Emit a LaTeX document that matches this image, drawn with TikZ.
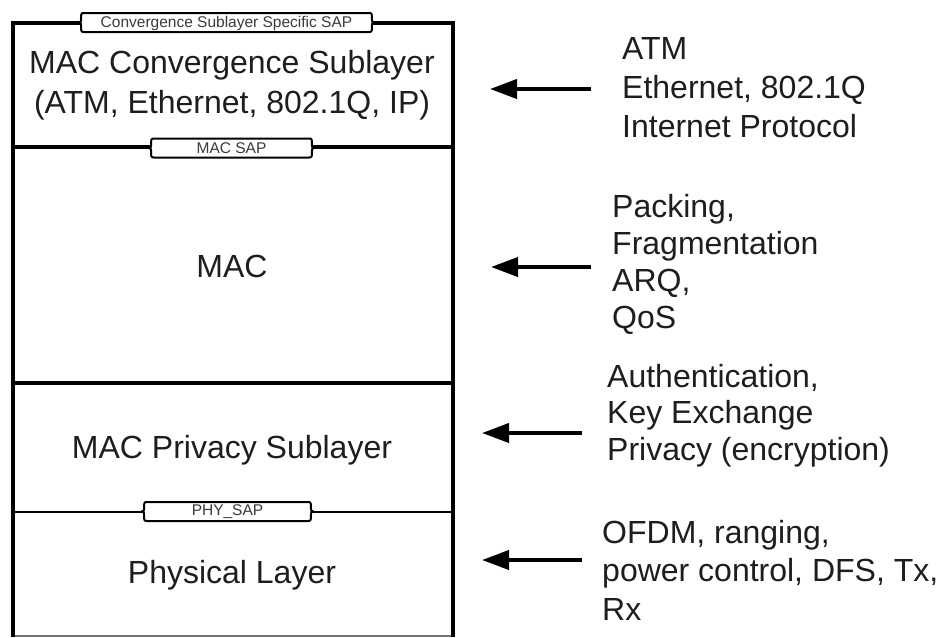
\documentclass[tikz,border=0pt]{standalone}
\usepackage{fontspec}
\setmainfont{Liberation Sans}
\usetikzlibrary{arrows.meta}
\definecolor{ink}{HTML}{1E1E1E}
\definecolor{sapink}{HTML}{3A3A3A}
\newcommand\drawsap[5]{% name, x, y, half width, text
  \begin{scope}[shift={(#2,#3)}]
    \fill[white] (-#4,-9.5) rectangle (#4,9.5);
    \draw[sapedge]
      (-#4+4,-9.5) -- (#4-4,-9.5)
      .. controls (#4-1,-9.5) and (#4-1,-8.5) .. (#4-1,-2.5)
      .. controls (#4-1,-0.5) .. (#4+1.5,0)
      .. controls (#4-1,0.5) .. (#4-1,2.5)
      .. controls (#4-1,8.5) and (#4-1,9.5) .. (#4-4,9.5)
      -- (-#4+4,9.5)
      .. controls (-#4+1,9.5) and (-#4+1,8.5) .. (-#4+1,2.5)
      .. controls (-#4+1,0.5) .. (-#4-1.5,0)
      .. controls (-#4+1,-0.5) .. (-#4+1,-2.5)
      .. controls (-#4+1,-8.5) and (-#4+1,-9.5) .. (-#4+4,-9.5) -- cycle;
    \node[saptext] (#1) at (0,0.5) {#5};
  \end{scope}}
\begin{document}
\begin{tikzpicture}[x=1pt,y=-1pt,
  thickline/.style={line width=4pt, draw=black},
  midline/.style={line width=2.6pt, draw=black},
  thinline/.style={line width=1.5pt, draw=black!55},
  sapedge/.style={line width=2pt, draw=black, line join=round},
  saptext/.style={inner sep=0pt, text=sapink, font=\fontsize{15.5}{16}\selectfont},
  layertext/.style={inner sep=0pt, anchor=base, text=ink, align=center, font=\fontsize{32}{40}\selectfont},
  desc/.style={inner sep=0pt, anchor=base west, text=ink, align=left},
  feed/.style={line width=4pt, draw=black, -{Triangle[length=27pt,width=19pt]}}
]
\useasboundingbox (0,0) rectangle (944,637);
\fill[white] (0,0) rectangle (944,637);

% frame of the stack
\draw[thinline] (13,636) -- (453,636);
\draw[thickline] (13,22.5) -- (453,22.5);
\draw[thickline] (13,147) -- (453,147);
\draw[thickline] (13,383) -- (453,383);
\draw[midline] (13,512) -- (453,512);
\draw[thickline] (13,20.5) -- (13,637);
\draw[thickline] (453,20.5) -- (453,637);

% service access points
\drawsap{sapcs}{226.5}{22.5}{146.5}{Convergence Sublayer Specific SAP}
\drawsap{sapmac}{231.5}{148}{81.5}{MAC SAP}
\drawsap{sapphy}{227.5}{511.5}{84.5}{PHY\_SAP}

% layer names (base anchor = baseline of the last line)
\node[layertext] (conv) at (232,113) {MAC Convergence Sublayer\\(ATM, Ethernet, 802.1Q, IP)};
\node[layertext] (mac) at (232,277) {MAC};
\node[layertext] (priv) at (232,458) {MAC Privacy Sublayer};
\node[layertext] (phy) at (232,583) {Physical Layer};

% descriptions
\node[desc, font=\fontsize{32}{39}\selectfont] (d1) at (622,137)
  {ATM\\Ethernet, 802.1Q\\Internet Protocol};
\node[desc, font=\fontsize{32}{36.7}\selectfont] (d2) at (612,328)
  {Packing,\\Fragmentation\\ARQ,\\QoS};
\node[desc, font=\fontsize{32}{36.5}\selectfont] (d3) at (607,460)
  {Authentication,\\Key Exchange\\Privacy (encryption)};
\node[desc, font=\fontsize{32}{38.5}\selectfont] (d4) at (602,620)
  {OFDM, ranging,\\power control, DFS, Tx,\\Rx};

% arrows
\coordinate (a1s) at (591,89);  \coordinate (a1e) at (490,89);
\coordinate (a2s) at (591,267); \coordinate (a2e) at (491,267);
\coordinate (a3s) at (582,433); \coordinate (a3e) at (482,433);
\coordinate (a4s) at (582,560); \coordinate (a4e) at (482,560);
\draw[feed] (a1s) -- (a1e);
\draw[feed] (a2s) -- (a2e);
\draw[feed] (a3s) -- (a3e);
\draw[feed] (a4s) -- (a4e);
\end{tikzpicture}
\end{document}
